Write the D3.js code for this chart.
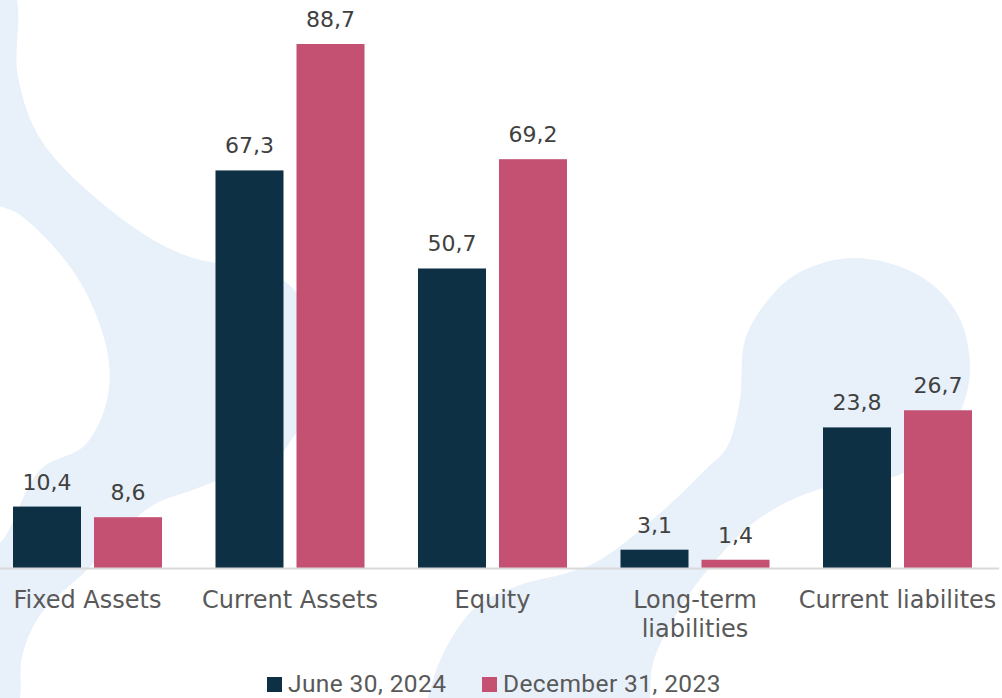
<!DOCTYPE html>
<html>
<head>
<meta charset="utf-8">
<script src="https://cdn.jsdelivr.net/npm/d3@7"></script>
<style>
  html, body { margin: 0; padding: 0; background: #fff; }
  svg { display: block; }
</style>
</head>
<body>
<div id="chart"></div>
<script>
// Data
const categories = ["Fixed Assets", "Current Assets", "Equity", "Long-term liabilities", "Current liabilites"];
const seriesNames = ["June 30, 2024", "December 31, 2023"];
const june2024 = [10.4, 67.3, 50.7, 3.1, 23.8];
const dec2023 = [8.6, 88.7, 69.2, 1.4, 26.7];
const colors = ["#0e3044", "#c45172"];

const width = 1002, height = 698;
const baseY = 568;

const svg = d3.select("#chart")
    .append("svg")
    .attr("width", width)
    .attr("height", height);

// Decorative light blue background shapes
const bgShapes = [
    [[-30,-30],[13,-10],[18,77],[43,143],[133,227],[193,258],[250,268],[283,280],[305,305],[320,350],[318,400],
     [297,432],[270,465],[230,476],[193,490],[150,507],[87,570],[40,615],[22,657],[20,698],[10,740],[-30,740],
     [-30,560],[0,543],[40,470],[85,445],[107,400],[107,350],[77,277],[20,215],[-30,190]],
    [[856,258],[920,276],[958,315],[970,371],[958,417],[930,458],[890,478],[817,490],[757,520],[710,567],
     [677,613],[653,663],[650,698],[648,740],[420,740],[428,697],[445,650],[476,607],[520,585],[567,573],
     [600,560],[667,507],[705,470],[727,447],[740,400],[745,340],[768,300],[800,272]]
];
svg.append("g")
    .selectAll("path")
    .data(bgShapes)
    .join("path")
    .attr("d", d3.line().curve(d3.curveCatmullRomClosed.alpha(0.5)))
    .attr("fill", "#e8f0fa");

// Scales
const x0 = d3.scaleBand()
    .domain(categories)
    .range([-13.75, 998.75]);

const x1 = d3.scaleBand()
    .domain(seriesNames)
    .range([26.75, 175.75])
    .paddingInner(0.1605);

const y = d3.scaleLinear()
    .domain([0, 88.7])
    .range([baseY, 44]);

const rows = categories.map((c, i) => ({cat: c, values: [june2024[i], dec2023[i]]}));

// Bars
const groups = svg.append("g")
    .selectAll("g")
    .data(rows)
    .join("g")
    .attr("transform", d => `translate(${x0(d.cat)},0)`);

groups.selectAll("rect")
    .data(d => d.values.map((v, k) => ({name: seriesNames[k], value: v, k: k})))
    .join("rect")
    .attr("x", d => x1(d.name))
    .attr("y", d => y(d.value))
    .attr("width", x1.bandwidth())
    .attr("height", d => baseY - y(d.value))
    .attr("fill", d => colors[d.k]);

// Value labels
groups.selectAll("text")
    .data(d => d.values.map((v, k) => ({name: seriesNames[k], value: v})))
    .join("text")
    .attr("x", d => x1(d.name) + x1.bandwidth() / 2)
    .attr("y", d => y(d.value) - 17)
    .attr("text-anchor", "middle")
    .attr("font-family", "DejaVu Sans, sans-serif")
    .attr("font-size", "22px")
    .attr("fill", "#404040")
    .text(d => d3.format(".1f")(d.value).replace(".", ","));

// X axis
const xAxis = svg.append("g")
    .attr("transform", `translate(0,${baseY})`)
    .call(d3.axisBottom(x0).tickSize(0).tickPadding(0));

xAxis.select(".domain")
    .attr("stroke", "#d9d9d9")
    .attr("stroke-width", 2);

xAxis.selectAll(".tick text").remove();
xAxis.selectAll(".tick")
    .append("text")
    .attr("text-anchor", "middle")
    .attr("font-family", "DejaVu Sans, sans-serif")
    .attr("font-size", "24px")
    .attr("fill", "#595959")
    .selectAll("tspan")
    .data(d => d === "Long-term liabilities" ? ["Long-term", "liabilities"] : [d])
    .join("tspan")
    .attr("x", 0)
    .attr("y", (d, i) => 40 + i * 29)
    .text(d => d);

// Legend
const legendX = [267, 482];
const legend = svg.append("g")
    .selectAll("g")
    .data(seriesNames)
    .join("g")
    .attr("transform", (d, i) => `translate(${legendX[i]},677)`);

legend.append("rect")
    .attr("width", 15)
    .attr("height", 15)
    .attr("fill", (d, i) => colors[i]);

legend.append("text")
    .attr("x", 21)
    .attr("y", 15)
    .attr("font-family", "Roboto, sans-serif")
    .attr("font-size", "24.5px")
    .attr("letter-spacing", "0.4px")
    .attr("fill", "#595959")
    .text(d => d);
</script>
</body>
</html>
